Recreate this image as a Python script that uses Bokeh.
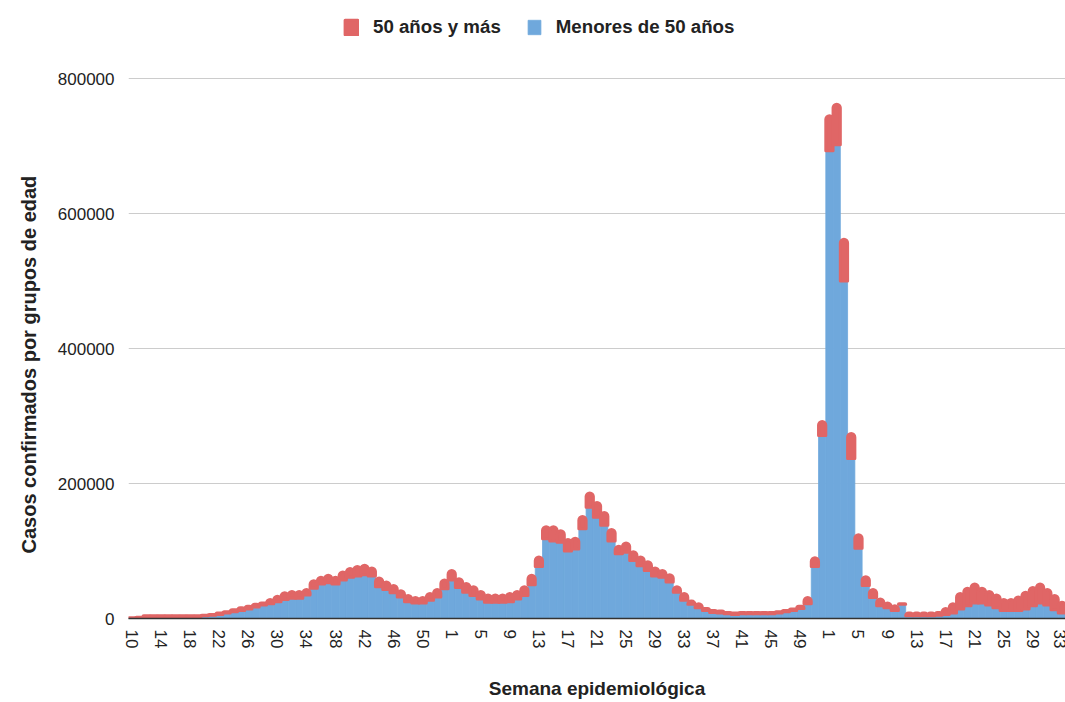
from bokeh.plotting import figure
from bokeh.models import (ColumnDataSource, FixedTicker, Legend, LegendItem,
                          Range1d, NumeralTickFormatter, Title)
from bokeh.embed import file_html
from bokeh.resources import INLINE

# ---- categories: epidemiological weeks 2020-10 .. 2022-33 ----
weeks_2020 = list(range(10, 54))
weeks_2021 = list(range(1, 53))
weeks_2022 = list(range(1, 34))
week_labels = [str(w) for w in weeks_2020 + weeks_2021 + weeks_2022]

# ---- series values (cases per week) ----
menores_2020 = [500, 1000, 3000, 3000, 3000, 3000, 3000, 3000, 3000, 3000,
                4000, 5000, 6000, 8000, 10000, 12000, 14000, 17000, 20000, 22000,
                25000, 28000, 30000, 30000, 35000, 45000, 51000, 53000, 51000, 57000,
                61000, 63000, 65000, 63000, 47000, 43000, 38000, 32000, 25000, 23000,
                23000, 27000, 32000, 44000]
mayores_2020 = [500, 1000, 1000, 1000, 1000, 1000, 1000, 1000, 1000, 1000,
                1000, 1000, 2000, 2000, 3000, 4000, 4000, 4000, 3000, 6000,
                8000, 10000, 10000, 10000, 8000, 11000, 10000, 11000, 10000, 12000,
                13000, 14000, 14000, 12000, 13000, 11000, 11000, 9000, 9000, 8000,
                8000, 10000, 11000, 13000]

menores_2021 = [57000, 46000, 39000, 34000, 29000, 24000, 24000, 24000, 25000, 29000,
                34000, 50000, 77000, 118000, 115000, 113000, 100000, 103000, 133000, 165000,
                150000, 138000, 115000, 96000, 98000, 86000, 78000, 71000, 63000, 61000,
                54000, 39000, 27000, 21000, 16000, 12000, 9000, 8000, 7000, 6000,
                7000, 7000, 7000, 7000, 7000, 8000, 10000, 12000, 15000, 22000,
                77000, 271000]
mayores_2021 = [14000, 13000, 13000, 13000, 11000, 11000, 11000, 11000, 12000, 11000,
                13000, 14000, 14000, 18000, 21000, 17000, 17000, 16000, 18000, 21000,
                22000, 19000, 17000, 11000, 14000, 13000, 13000, 13000, 12000, 10000,
                11000, 8000, 10000, 5000, 6000, 3000, 3000, 3000, 2000, 2000,
                2000, 2000, 2000, 2000, 2000, 2000, 2000, 2000, 3000, 9000,
                13000, 21000]

menores_2022 = [693000, 702000, 500000, 237000, 104000, 49000, 31000, 19000, 16000, 12000,
                21000, 4000, 4000, 4000, 4000, 5000, 6000, 8000, 14000, 19000,
                23000, 23000, 20000, 16000, 12000, 12000, 12000, 14000, 19000, 23000,
                20000, 13000, 8000]
mayores_2022 = [52000, 60000, 62000, 37000, 20000, 13000, 12000, 10000, 7000, 7000,
                1000, 4000, 4000, 4000, 4000, 4000, 9000, 14000, 23000, 26000,
                28000, 22000, 20000, 19000, 16000, 16000, 20000, 25000, 27000, 28000,
                23000, 21000, 16000]

y_ticks = [0, 200000, 400000, 600000, 800000]

menores = menores_2020 + menores_2021 + menores_2022
mayores = mayores_2020 + mayores_2021 + mayores_2022
n = len(week_labels)
xs = list(range(n))
total = [a + b for a, b in zip(menores, mayores)]

BLUE = "#6fa8dc"
RED = "#e06666"
FONT = "Liberation Sans"

# frame spans the full height above the axis (618 px); the 800000 gridline sits 540 px above 0
FRAME_H = 618
GRID_H = 540
y_top = y_ticks[-1] * FRAME_H / GRID_H

src = ColumnDataSource(dict(x=xs, menores=menores, total=total))

p = figure(width=1065, height=702, output_backend="svg", toolbar_location=None,
           x_range=Range1d(-0.5, n - 0.5), y_range=Range1d(0, y_top),
           min_border_left=128, min_border_right=0, min_border_top=0,
           min_border_bottom=84, background_fill_color="white",
           border_fill_color="white")
p.outline_line_color = None

blue_r = p.vbar(x="x", top="menores", bottom=0, width=1.0, source=src,
                fill_color=BLUE, line_color=BLUE, line_width=0.8)
red_r = p.vbar(x="x", top="total", bottom="menores", width=1.0, source=src,
               fill_color=RED, line_color=RED, line_width=3, line_join="round",
               border_radius=(5, 5, 0, 0))

# axes
p.xaxis.ticker = FixedTicker(ticks=list(range(0, n, 4)))
p.xaxis.major_label_overrides = {i: week_labels[i] for i in range(0, n, 4)}
p.xaxis.major_label_orientation = "vertical"
p.xaxis.major_tick_line_color = None
p.xaxis.minor_tick_line_color = None
p.xaxis.axis_line_color = "#333333"
p.xaxis.axis_line_width = 1.5
p.xaxis.major_label_standoff = 5
p.xaxis.major_label_text_font = FONT
p.xaxis.major_label_text_font_size = "17px"
p.xaxis.major_label_text_color = "#222222"
p.xaxis.axis_label = "Semana epidemiológica"
p.xaxis.axis_label_standoff = 27
p.xaxis.axis_label_text_font = FONT
p.xaxis.axis_label_text_font_style = "bold"
p.xaxis.axis_label_text_font_size = "19px"
p.xaxis.axis_label_text_color = "#222222"

p.yaxis.ticker = FixedTicker(ticks=y_ticks)
p.yaxis.formatter = NumeralTickFormatter(format="0")
p.yaxis.axis_line_color = None
p.yaxis.major_tick_line_color = None
p.yaxis.minor_tick_line_color = None
p.yaxis.major_label_standoff = 8
p.yaxis.major_label_text_font = FONT
p.yaxis.major_label_text_font_size = "17px"
p.yaxis.major_label_text_color = "#222222"

ytitle = Title(text="Casos confirmados por grupos de edad", align="left", offset=65,
               standoff=30, text_font=FONT, text_font_style="bold",
               text_font_size="20px", text_color="#222222")
p.add_layout(ytitle, "left")

p.xgrid.visible = False
p.ygrid.ticker = FixedTicker(ticks=y_ticks)
p.ygrid.grid_line_color = "#cccccc"
p.ygrid.grid_line_width = 1

legend = Legend(items=[LegendItem(label="50 años y más", renderers=[red_r]),
                       LegendItem(label="Menores de 50 años", renderers=[blue_r])],
                orientation="horizontal", location=(215, 580),
                glyph_width=16, glyph_height=18, label_height=20,
                label_standoff=14, spacing=25, padding=0, margin=0,
                border_line_color=None, background_fill_alpha=0,
                label_text_font=FONT, label_text_font_style="bold",
                label_text_font_size="18.7px", label_text_color="#222222")
p.add_layout(legend)

open("out.html", "w").write(file_html(p, INLINE))
